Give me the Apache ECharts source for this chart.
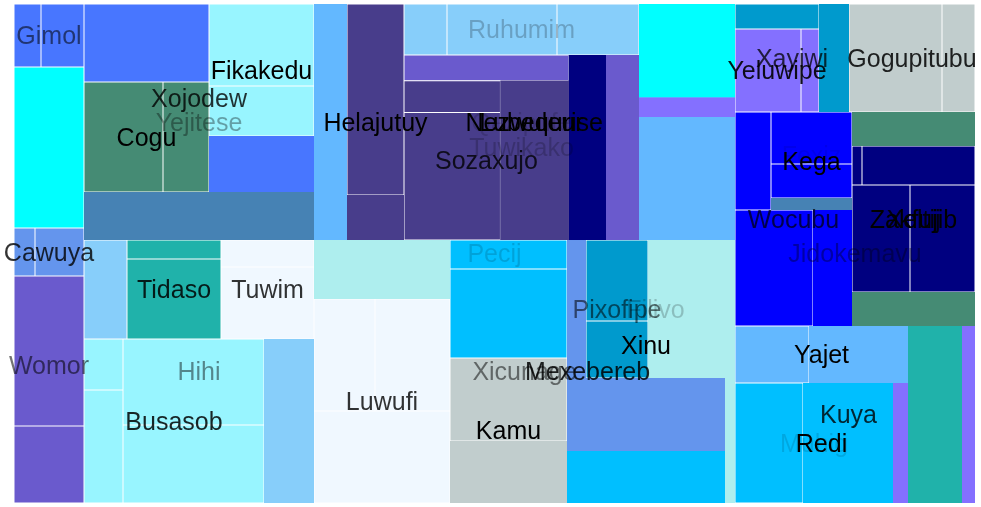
<!DOCTYPE html>
<html>
<head>
<meta charset="utf-8">
<script src="https://cdn.jsdelivr.net/npm/echarts@6/dist/echarts.min.js"></script>
<style>html,body{margin:0;padding:0;background:#fff}#c{width:981px;height:507px}</style>
</head>
<body>
<div id="c"></div>
<script>
// ---- data: node names, parent names, leaf values (groups = null, summed) ----
const names = [
 'Pecij',
 'Gimol','Gimol.1','Gimol.2','Cyan.1',
 'Womor','Cawuya','Cawuya.1','Cawuya.2','Womor.1','Womor.2',
 'Yejitese','Xojodew','Xojodew.1','Cogu','Cogu.1','Cogu.2','Fikakedu','Fikakedu.1','Fikakedu.2','Xojodew.2','Yejitese.1',
 'Hihi','Hihi.1','Tidaso','Tidaso.1','Tidaso.2','Tuwim','Tuwim.1','Tuwim.2','Busasob','Busasob.1','Busasob.2','Busasob.3','Busasob.4','Hihi.2',
 'Nezwuleur','Nezwuleur.1','Lubequrise','Helajutuy','Helajutuy.1','Helajutuy.2','_X','Qaxipufe','Ruhumim','Ruhumim.1','Ruhumim.2','Ruhumim.3',
 'Tuwikako','_P','_P.1','Sozaxujo','Sozaxujo.1','Sozaxujo.2','Sozaxujo.3','_P.2','Tuwikako.1','_Y','_Y.1','_Y.2','_Y.3',
 'Xicunage','Xicunage.1','Luwufi','Luwufi.1','Luwufi.2','Luwufi.3','Mexebereb','_G','_G.1','_G.2','Kamu','Kamu.1','Kamu.2',
 'Xinu','Xinu.1','Filivo','Pixofipe','Pixofipe.1','Pixofipe.2','Filivo.1','Xinu.2','Mexebereb.1','Xicunage.2',
 'Jidokemavu','Xayiwi','Xayiwi.1','Yeluwipe','Yeluwipe.1','Yeluwipe.2','Xayiwi.2','Gogupitubu','Gogupitubu.1','Gogupitubu.2',
 'Wocubu','Wocubu.1','Kega','Fexiz','Fexiz.1','Fexiz.2','Kega.1','Wocubu.2','Wocubu.3',
 'Xeltij','Xeltij.1','Zakfujib','Zakfujib.1','Zakfujib.2','Zakfujib.3','Zakfujib.4','Xeltij.2',
 'Kuya','Yajet','Yajet.1','Yajet.2','Redi','Muhig','Muhig.1','Muhig.2','Redi.1','Kuya.1','Jidokemavu.1'
];
const parents = [
 '',
 'Pecij','Gimol','Gimol','Pecij',
 'Pecij','Womor','Cawuya','Cawuya','Womor','Womor',
 'Pecij','Yejitese','Xojodew','Xojodew','Cogu','Cogu','Xojodew','Fikakedu','Fikakedu','Xojodew','Yejitese',
 'Pecij','Hihi','Hihi','Tidaso','Tidaso','Hihi','Tuwim','Tuwim','Hihi','Busasob','Busasob','Busasob','Busasob','Hihi',
 'Pecij','Nezwuleur','Nezwuleur','Lubequrise','Helajutuy','Helajutuy','Lubequrise','_X','Qaxipufe','Ruhumim','Ruhumim','Ruhumim',
 'Qaxipufe','Tuwikako','_P','_P','Sozaxujo','Sozaxujo','Sozaxujo','_P','Tuwikako','_X','_Y','_Y','_Y',
 'Pecij','Xicunage','Xicunage','Luwufi','Luwufi','Luwufi','Xicunage','Mexebereb','_G','_G','Mexebereb','Kamu','Kamu',
 'Mexebereb','Xinu','Xinu','Filivo','Pixofipe','Pixofipe','Filivo','Xinu','Mexebereb','Xicunage',
 'Pecij','Jidokemavu','Xayiwi','Xayiwi','Yeluwipe','Yeluwipe','Xayiwi','Jidokemavu','Gogupitubu','Gogupitubu',
 'Jidokemavu','Wocubu','Wocubu','Kega','Fexiz','Fexiz','Kega','Wocubu','Wocubu',
 'Jidokemavu','Xeltij','Xeltij','Zakfujib','Zakfujib','Zakfujib','Zakfujib','Xeltij',
 'Jidokemavu','Kuya','Yajet','Yajet','Kuya','Redi','Muhig','Muhig','Redi','Kuya','Jidokemavu'
];
const values = [
 null,
 null,1701,2709,11270,
 null,null,1008,2352,10500,5390,
 null,null,9750,null,8690,5060,null,8610,5250,5880,11040,
 null,4257,null,1786,7520,null,2511,6696,null,1989,4407,12126,10998,8200,
 null,7788,null,null,10887,2565,null,null,null,2193,5610,4182,
 null,null,4243,null,3072,12288,10880,6887,6105,null,8968,1888,11800,
 null,8024,null,6832,8400,12512,null,null,3393,10413,null,9711,7254,
 null,2622,null,null,5022,3534,10626,11534,8216,2630,
 null,null,2100,null,5478,1494,3240,null,10044,3564,
 null,3528,null,null,4212,2754,972,9048,4524,
 null,4182,null,390,4407,6206,6955,4182,
 null,null,4218,5643,null,null,8160,10800,1800,9558,2301
];

// ---- styles (kept apart from the data) ----
const labelAlpha = {
 Pecij:0.15, Gimol:0.55, Womor:0.55, Cawuya:0.8, Yejitese:0.35, Xojodew:0.8, Cogu:1, Fikakedu:1,
 Hihi:0.45, Tidaso:0.85, Tuwim:0.8, Busasob:0.85,
 Nezwuleur:1, Lubequrise:1, Helajutuy:1, Qaxipufe:0.15, Ruhumim:0.22, Tuwikako:0.2, Sozaxujo:0.8,
 Xicunage:0.5, Luwufi:0.8, Mexebereb:0.85, Kamu:1, Xinu:1, Filivo:0.2, Pixofipe:0.55,
 Jidokemavu:0.35, Xayiwi:0.75, Yeluwipe:0.9, Gogupitubu:0.85, Wocubu:0.7, Kega:1, Fexiz:0.08,
 Xeltij:0.9, Zakfujib:1, Kuya:0.8, Yajet:1, Redi:1, Muhig:0.12
};
const groupColor = {
 Gimol:'#4876FF', Cawuya:'#6495ED', Womor:'#6A5ACD', Xojodew:'#4876FF', Cogu:'#458B74', Fikakedu:'#98F5FF',
 Yejitese:'#4682B4', Hihi:'#87CEFA', Tidaso:'#20B2AA', Tuwim:'#F0F8FF', Busasob:'#98F5FF',
 Nezwuleur:'#63B8FF', Helajutuy:'#483D8B', Ruhumim:'#87CEFA', Sozaxujo:'#483D8B', Tuwikako:'#6A5ACD',
 Xicunage:'#AEEEEE', Luwufi:'#F0F8FF', _G:'#00BFFF', Kamu:'#C1CDCD', Xinu:'#6495ED', Pixofipe:'#009ACD',
 Filivo:'#AEEEEE', Mexebereb:'#00BFFF', Xayiwi:'#009ACD', Yeluwipe:'#8470FF', Gogupitubu:'#C1CDCD',
 Wocubu:'#0000FF', Fexiz:'#0000FF', Kega:'#4682B4', Xeltij:'#458B74', Zakfujib:'#000080', Yajet:'#63B8FF',
 Muhig:'#00BFFF', Redi:'#8470FF', Kuya:'#20B2AA', Jidokemavu:'#8470FF'
};
const leafColor = {
 'Cyan.1':'#00FFFF', '_P.1':'#6A5ACD', '_P.2':'#000080', '_Y.1':'#00FFFF', '_Y.2':'#8470FF', '_Y.3':'#63B8FF'
};
const noBorder = new Set(['Xojodew.2','Yejitese.1','Hihi.2','Nezwuleur.1','Helajutuy.2','Sozaxujo.3','_P.2',
 'Tuwikako.1','_Y.1','_Y.2','_Y.3','Xicunage.1','Kamu.2','Xinu.1','Filivo.1','Xinu.2','Mexebereb.1','Xicunage.2',
 'Xayiwi.2','Kega.1','Wocubu.3','Xeltij.1','Xeltij.2','Yajet.2','Muhig.2','Redi.1','Kuya.1','Jidokemavu.1']);

// ---- build tree ----
const map = {};
names.forEach((n, i) => { map[n] = { id: n, value: values[i], children: [] }; });
let root = null;
names.forEach((n, i) => { if (parents[i]) map[parents[i]].children.push(map[n]); else root = map[n]; });
function total(nd) { if (!nd.children.length) return nd.value; nd.value = nd.children.reduce((s, c) => s + total(c), 0); return nd.value; }
total(root);
let maxLd = 0;
function annotate(nd, d) { nd.ld = (nd.id in labelAlpha) ? d + 1 : d; maxLd = Math.max(maxLd, nd.ld); nd.children.forEach(c => annotate(c, nd.ld)); }
annotate(root, 0);
function colorOf(id) { return leafColor[id] || groupColor[id.split('.')[0]]; }

const CLEAR = 'rgba(0,0,0,0)';
function toBase(nd) {
  if (!nd.children.length) {
    const c = colorOf(nd.id);
    const b = !noBorder.has(nd.id);
    return { name: nd.id, value: nd.value, itemStyle: { color: c, borderColor: b ? '#ffffff' : c, borderWidth: b ? 0.5 : 0 } };
  }
  return { name: nd.id, value: nd.value, itemStyle: { color: '#ffffff', borderColor: '#ffffff', borderWidth: 0, gapWidth: 0 },
           children: nd.children.map(toBase) };
}
const clearStyle = { color: CLEAR, borderColor: CLEAR, borderWidth: 0, gapWidth: 0 };
function toLabel(nd, k) {
  if ((nd.id in labelAlpha) && nd.ld === k) {
    return { name: nd.id, value: nd.value, itemStyle: clearStyle,
             label: { show: true, color: 'rgba(0,0,0,' + labelAlpha[nd.id] + ')' } };
  }
  if (!nd.children.length) return { name: nd.id, value: nd.value, itemStyle: clearStyle };
  return { name: nd.id, value: nd.value, itemStyle: clearStyle, children: nd.children.map(c => toLabel(c, k)) };
}

const common = {
  type: 'treemap', left: 14, top: 4, width: 961, height: 499,
  squareRatio: 1, sort: false, roam: false, nodeClick: false,
  breadcrumb: { show: false }, animation: false, silent: true,
  emphasis: { disabled: true }
};
const series = [Object.assign({}, common, {
  z: 1,
  data: [toBase(root)],
  label: { show: false }, upperLabel: { show: false }
})];
for (let k = 1; k <= maxLd; k++) {
  series.push(Object.assign({}, common, {
    z: 10 + k,
    data: [toLabel(root, k)],
    color: [CLEAR],
    itemStyle: clearStyle,
    label: { show: false, position: 'inside', align: 'center', verticalAlign: 'middle', padding: 0,
             offset: [0, 2], overflow: 'none', fontSize: 25, fontFamily: 'Liberation Sans', fontWeight: 'normal' },
    upperLabel: { show: false }
  }));
}
const chart = echarts.init(document.getElementById('c'), null, { renderer: 'canvas' });
chart.setOption({ animation: false, series: series });
</script>
</body>
</html>
